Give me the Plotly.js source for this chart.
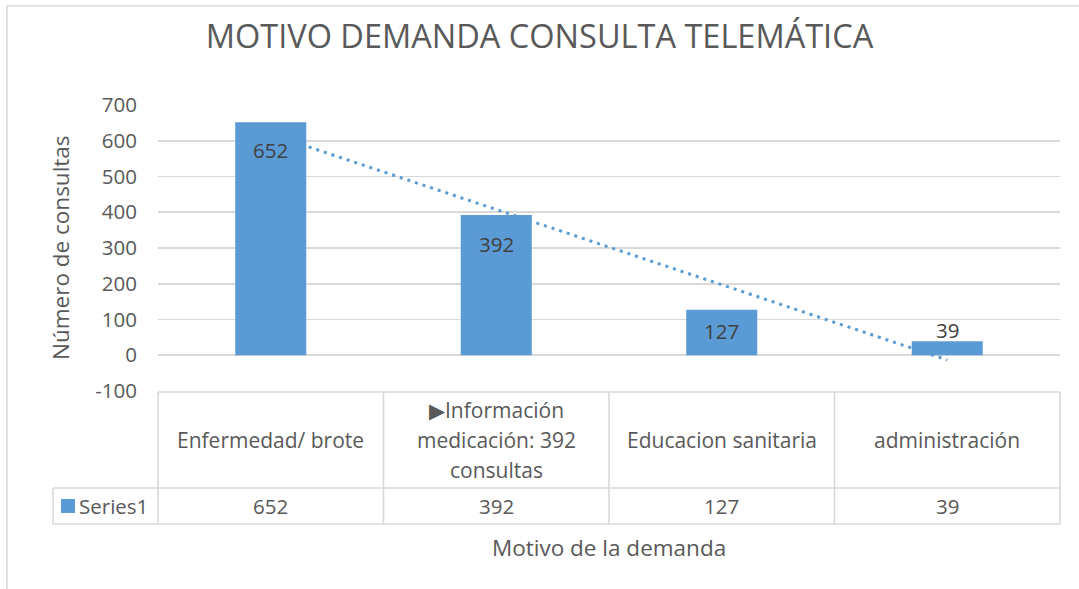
<!DOCTYPE html>
<html>
<head>
<meta charset="utf-8">
<script src="https://cdn.plot.ly/plotly-3.0.1.min.js"></script>
<style>html,body{margin:0;padding:0;background:#fff;}#chart{width:1079px;height:589px;}</style>
</head>
<body>
<div id="chart"></div>
<script>
// ---- data ----
const chartTitle = 'MOTIVO DEMANDA CONSULTA TELEMÁTICA';
const categories = ['Enfermedad/ brote', '▶Información medicación: 392 consultas', 'Educacion sanitaria', 'administración'];
const categoryLines = [['Enfermedad/ brote'], ['▶Información', 'medicación: 392', 'consultas'], ['Educacion sanitaria'], ['administración']];
const seriesName = 'Series1';
const values = [652, 392, 127, 39];
const yTickVals = [-100, 0, 100, 200, 300, 400, 500, 600, 700];
const yTickText = ['-100', '0', '100', '200', '300', '400', '500', '600', '700'];
const yTitle = 'Número de consultas';
const xTitle = 'Motivo de la demanda';

// ---- linear trendline (least squares over category index 1..n) ----
const n = values.length;
const xs = values.map((_, i) => i + 1);
const mx = xs.reduce((a, b) => a + b, 0) / n;
const my = values.reduce((a, b) => a + b, 0) / n;
let sxy = 0, sxx = 0;
xs.forEach((x, i) => { sxy += (x - mx) * (values[i] - my); sxx += (x - mx) * (x - mx); });
const slope = sxy / sxx, intercept = my - slope * mx;
const trend = xs.map(x => intercept + slope * x);

// ---- layout geometry (pixels) ----
const W = 1079, H = 589, ML = 158, MR = 19, MT = 105, MB = 198;
const PW = W - ML - MR, PH = H - MT - MB;
const px = p => (p - ML) / PW;
const py = p => (H - MB - p) / PH;

const blue = '#5B9BD5', grey = '#D9D9D9', txt = '#595959', dark = '#404040';
const FONT = 'Open Sans, Liberation Sans, sans-serif';
const yRange = [-100, 700];

const labelShift = [-28, -29, -21, 11];

const annotations = [];
// data labels
values.forEach((v, i) => {
  annotations.push({xref: 'x', yref: 'y', x: i, y: v, yshift: labelShift[i], text: String(v), showarrow: false,
    font: {family: FONT, size: 20.5, color: dark}, xanchor: 'center', yanchor: 'middle'});
});
// table header (category labels)
categoryLines.forEach((lines, i) => {
  lines.forEach((ln, j) => {
    const cy = 440 + (j - (lines.length - 1) / 2) * 30;
    annotations.push({xref: 'x', yref: 'paper', x: i, y: py(cy), text: ln, showarrow: false,
      font: {family: FONT, size: 21, color: txt}, xanchor: 'center', yanchor: 'middle'});
  });
});
// table value row
values.forEach((v, i) => {
  annotations.push({xref: 'x', yref: 'paper', x: i, y: py(506), text: String(v), showarrow: false,
    font: {family: FONT, size: 20.5, color: txt}, xanchor: 'center', yanchor: 'middle'});
});
// legend key text
annotations.push({xref: 'paper', yref: 'paper', x: px(77), y: py(506), text: seriesName, showarrow: false,
  font: {family: FONT, size: 20.5, color: txt}, xanchor: 'left', yanchor: 'middle'});
// axis titles
annotations.push({xref: 'paper', yref: 'paper', x: px(60), y: py(248), text: yTitle, textangle: -90, showarrow: false,
  font: {family: FONT, size: 22.5, color: txt}, xanchor: 'center', yanchor: 'middle'});
annotations.push({xref: 'paper', yref: 'paper', x: px(609), y: py(547), text: xTitle, showarrow: false,
  font: {family: FONT, size: 22.5, color: txt}, xanchor: 'center', yanchor: 'middle'});

const lineStyle = {color: grey, width: 1.6};
const hline = (x0, x1, y) => ({type: 'line', xref: 'paper', yref: 'paper', x0: px(x0), x1: px(x1), y0: py(y), y1: py(y), line: lineStyle});
const vline = (x, y0, y1) => ({type: 'line', xref: 'paper', yref: 'paper', x0: px(x), x1: px(x), y0: py(y0), y1: py(y1), line: lineStyle});
const colW = PW / n;
const shapes = [
  // outer chart frame
  {type: 'rect', xref: 'paper', yref: 'paper', x0: px(7), x1: px(1100), y0: py(6), y1: py(610), line: {color: grey, width: 1.6}},
  // data table
  hline(ML, ML + PW, 392),
  hline(53, ML + PW, 488),
  hline(53, ML + PW, 524),
  vline(53, 488, 524),
  // legend key
  {type: 'rect', xref: 'paper', yref: 'paper', x0: px(61), x1: px(75), y0: py(499), y1: py(513), fillcolor: blue, line: {width: 0}}
];
for (let k = 0; k <= n; k++) shapes.push(vline(ML + k * colW, 392, 524));

const data = [
  {type: 'scatter', mode: 'lines', x: categories, y: trend, xaxis: 'x', yaxis: 'y',
   line: {color: blue, width: 3, dash: '3px,5px'}, hoverinfo: 'skip', showlegend: false},
  {type: 'bar', name: seriesName, x: categories, y: values, xaxis: 'x2', yaxis: 'y2',
   marker: {color: blue}, hoverinfo: 'skip', showlegend: false}
];

const layout = {
  width: W, height: H,
  margin: {l: ML, r: MR, t: MT, b: MB, pad: 0},
  paper_bgcolor: '#fff', plot_bgcolor: '#fff',
  font: {family: FONT, color: txt},
  title: {text: chartTitle, font: {family: FONT, size: 32.5, color: txt}, x: 0.5, xref: 'container', xanchor: 'center',
    y: 1 - 37 / H, yref: 'container', yanchor: 'middle'},
  showlegend: false,
  bargap: 0.685,
  xaxis: {type: 'category', range: [-0.5, n - 0.5], showticklabels: false, showgrid: false, zeroline: false,
    showline: false, ticks: '', fixedrange: true},
  yaxis: {range: yRange, tickmode: 'array', tickvals: yTickVals, ticktext: yTickText, showgrid: true, gridcolor: grey, gridwidth: 1.6, zeroline: false,
    showline: false, ticks: '', ticklabelstandoff: 20, tickfont: {family: FONT, size: 20.5, color: txt}, fixedrange: true},
  xaxis2: {type: 'category', overlaying: 'x', range: [-0.5, n - 0.5], visible: false, fixedrange: true},
  yaxis2: {overlaying: 'y', range: yRange, visible: false, fixedrange: true},
  annotations: annotations,
  shapes: shapes
};

Plotly.newPlot('chart', data, layout, {displayModeBar: false, staticPlot: true});
</script>
</body>
</html>
